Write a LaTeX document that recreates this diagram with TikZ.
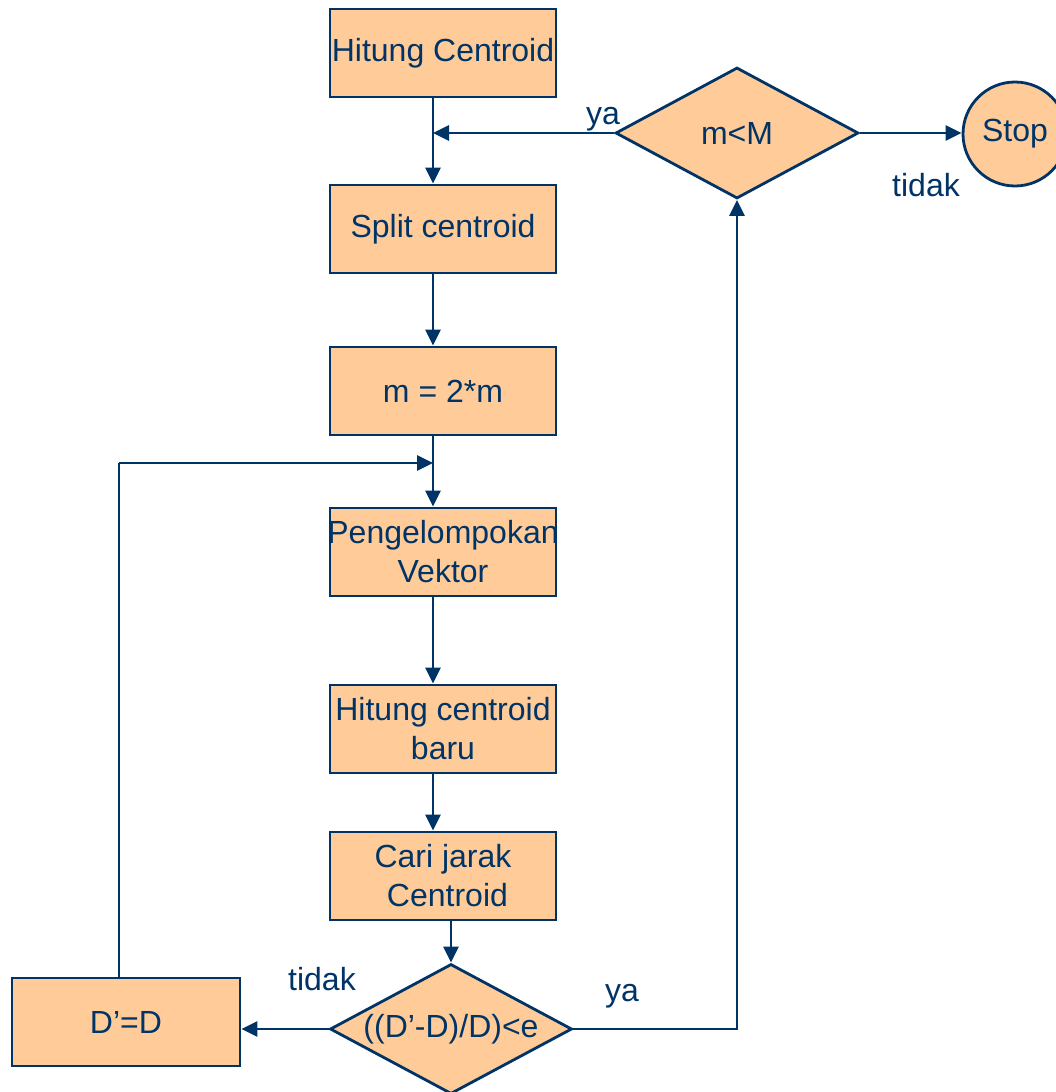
\documentclass[tikz,border=0pt]{standalone}
\usepackage{fontspec}
\setmainfont{Liberation Sans}
\usepackage{tikz}
\usetikzlibrary{shapes.geometric,arrows.meta,positioning}

\definecolor{navy}{HTML}{003366}
\definecolor{peach}{HTML}{FFCC99}

\tikzset{
  box/.style={draw=navy, fill=peach, line width=2.8pt, minimum width=226pt, minimum height=88pt, inner sep=0pt, align=center, text=navy},
  cond/.style={diamond, draw=navy, fill=peach, line width=2.8pt, minimum width=242pt, minimum height=130pt, aspect=1.86, inner sep=0pt, text=navy},
  arr/.style={draw=navy, line width=2.8pt, -{Triangle[length=16pt,width=15pt]}},
  line/.style={draw=navy, line width=2.8pt},
  lbl/.style={text=navy}
}

\begin{document}
\begin{tikzpicture}[x=1pt,y=-1pt,font=\fontsize{32}{39}\selectfont]
\useasboundingbox (0,0) rectangle (1056,1092);

\coordinate (lane) at (433, 0);
\coordinate (join) at (433, 463);
\coordinate (loop) at (119, 463);

\node [box] (hc) at (443, 53) {Hitung Centroid};
\node [box] (split) at (443, 229) {Split centroid};
\node [box] (mm) at (443, 391) {m = 2*m};
\node [box] (peng) at (443, 552) {\makebox[0pt]{Pengelompokan}\\Vektor};
\node [box] (hcb) at (443, 729) {Hitung centroid\\baru};
\node [box] (cari) at (443, 876) {Cari jarak\\\ Centroid};
\node [cond] (cek) at (451, 1029) {((D’-D)/D)<e};
\node [box, minimum width=228pt] (dd) at (126, 1022) {D’=D};
\node [cond, minimum width=243pt, minimum height=131pt] (mM) at (737, 133) {m<M};
\node [circle, draw=navy, fill=peach, line width=2.8pt, minimum size=104pt, inner sep=0pt, text=navy] (stop) at (1015, 134) {Stop};

\draw [arr] (hc.south -| lane) -- (split.north -| lane);
\draw [arr] (split.south -| lane) -- (mm.north -| lane);
\draw [arr] (mm.south -| lane) -- (peng.north -| lane);
\draw [arr] (peng.south -| lane) -- (hcb.north -| lane);
\draw [arr] (hcb.south -| lane) -- (cari.north -| lane);
\draw [arr] (cari.south -| cek.north) -- (cek.north);

\draw [arr] (cek.west) -- (cek.west -| dd.east);
\draw [line] (dd.north -| loop) -- (loop);
\draw [arr] (loop) -- (join);
\draw [arr] (cek.east) -| (mM.south);
\draw [arr] (mM.west) -- (mM.west -| lane);
\draw [arr] (mM.east) -- (mM.east -| stop.west);

\node [lbl] (ya1) at (603, 119) {ya};
\node [lbl] (tidak1) at (926, 185) {tidak};
\node [lbl] (tidak2) at (322, 979) {tidak};
\node [lbl] (ya2) at (622, 996) {ya};
\end{tikzpicture}
\end{document}
